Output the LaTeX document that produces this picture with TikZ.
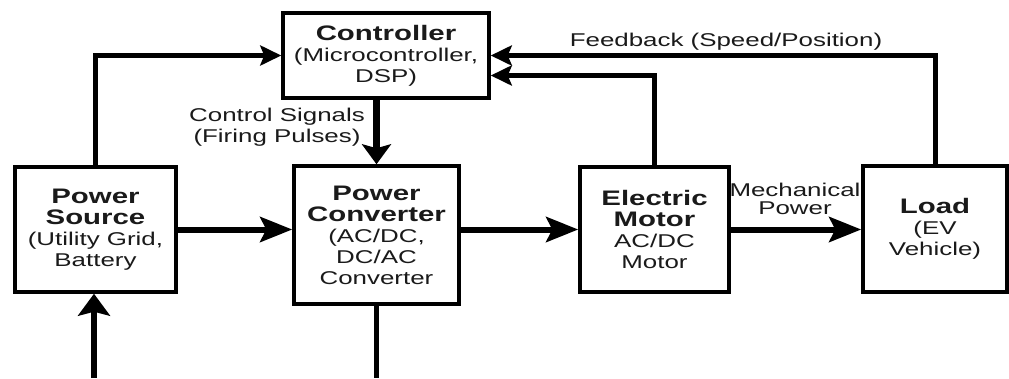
\documentclass[tikz,border=0pt]{standalone}
\usepackage{fontspec}
\setmainfont{Liberation Sans}[FakeStretch=1.4]
\usetikzlibrary{arrows.meta}
\newcommand{\bft}{\fontsize{21}{24}\selectfont\bfseries}
\newcommand{\nft}{\fontsize{18.5}{21}\selectfont}
\definecolor{txt}{HTML}{1A1A1A}
\begin{document}
\begin{tikzpicture}[x=1pt,y=-1pt,
  box/.style={draw=black, line width=3.5pt, align=center, inner sep=0pt, text=txt, font=\nft},
  lbl/.style={align=center, inner sep=0pt, text=txt, font=\nft},
  flow/.style={line width=6pt, -{Stealth[length=32pt,width=25pt,inset=6pt]}},
  sig/.style={line width=7pt, -{Stealth[length=20pt,width=29pt,inset=4pt]}},
  fb/.style={line width=5pt, -{Stealth[length=21pt,width=20pt,inset=4pt]}},
  plain/.style={line width=5.5pt}]
\useasboundingbox (0,0) rectangle (1009,378);
\fill[white] (0,0) rectangle (1009,378);
\node[box, minimum width=206pt, minimum height=85pt] (ctrl) at (386,55.5)
  {{\bft Controller}\\(Microcontroller,\\DSP)};
\node[box, minimum width=161pt, minimum height=125pt] (src) at (95.5,229.5)
  {{\bft Power}\\{\bft Source}\\(Utility Grid,\\Battery};
\node[box, minimum width=165pt, minimum height=138pt] (conv) at (376.5,235)
  {{\bft Power}\\{\bft Converter}\\(AC/DC,\\DC/AC\\Converter};
\node[box, minimum width=149pt, minimum height=125pt] (motor) at (654.5,229.5)
  {{\bft Electric}\\{\bft Motor}\\AC/DC\\Motor};
\node[box, minimum width=144pt, minimum height=126pt] (load) at (935,229)
  {{\bft Load}\\(EV\\Vehicle)};
\coordinate (bl) at (94,378);
\coordinate (br) at (376.5,378);
% connectors
\draw[fb, line width=5.5pt] (src.north) |- (ctrl.west);
\draw[sig] (ctrl.south -| conv.north) -- (conv.north);
\draw[flow] (src.east) -- (src.east -| conv.west);
\draw[flow] (motor.west -| conv.east) -- (motor.west);
\draw[flow] (motor.east) -- (motor.east -| load.west);
\draw[fb] (motor.north) |- ([yshift=-20pt]ctrl.east);
\draw[fb] (load.north) |- (ctrl.east);
\draw[plain] (conv.south) -- (br);
\draw[plain, -{Stealth[length=22pt,width=32pt,inset=4pt]}] (bl) -- (bl |- src.south);
% labels
\node[lbl] (cs) at (277,127) {Control Signals\\(Firing Pulses)};
\node[lbl, anchor=base] (fbl) at (726,46) {Feedback (Speed/Position)};
\node[lbl, font=\fontsize{18.5}{18}\selectfont] (mp) at (795,199) {Mechanical\\Power};
\end{tikzpicture}
\end{document}
